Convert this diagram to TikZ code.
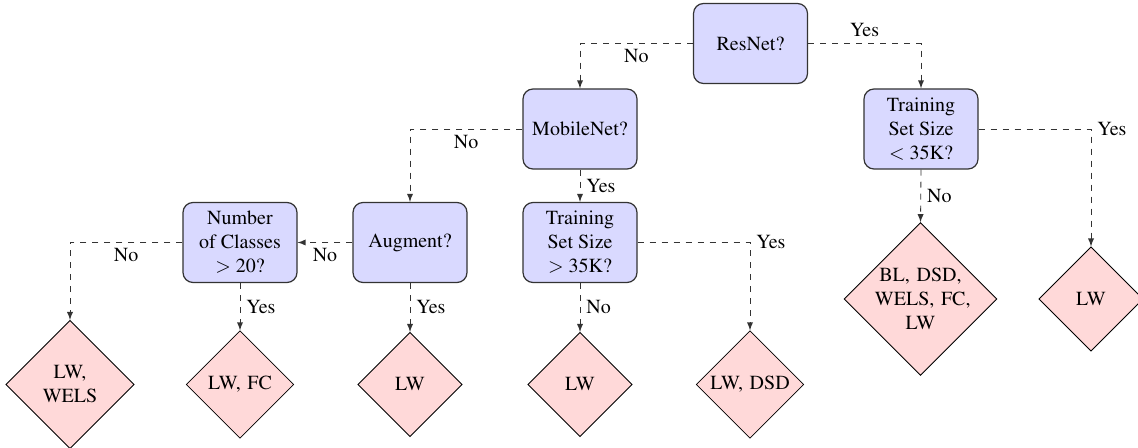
\documentclass[tikz,border=0pt]{standalone}
\usepackage[T1]{fontenc}
\usepackage{mathptmx}
\usetikzlibrary{shapes.geometric,arrows}
\begin{document}
\begin{tikzpicture}[x=0.5pt,y=-0.5pt, every node/.style={font=\rmfamily},
  qbox/.style={rectangle, rounded corners=5pt, draw=black!80, line width=0.6pt,
    fill=blue!15, minimum width=57pt, minimum height=40pt, align=center, inner sep=2pt},
  leaf/.style={diamond, draw=black, line width=0.4pt, fill=red!15, aspect=1,
    text width=1.6cm, align=center, inner sep=0pt},
  conn/.style={draw=black!80, dashed, -latex},
  lbl/.style={inner sep=3pt}]
\useasboundingbox (0,0) rectangle (1138,448);
% decision boxes
\node[qbox] (res) at (750.5,43.5) {ResNet?};
\node[qbox] (mob) at (580,129) {MobileNet?};
\node[qbox] (tsl) at (921,129) {Training\\Set Size\\$<$ 35K?};
\node[qbox] (aug) at (410,242.5) {Augment?};
\node[qbox] (ncl) at (240,242.5) {Number\\of Classes\\$>$ 20?};
\node[qbox] (tsg) at (580,242.5) {Training\\Set Size\\$>$ 35K?};
% leaves
\node[leaf] (l1) at (70,384.5) {LW,\\WELS};
\node[leaf] (l2) at (240,384.5) {LW,~FC};
\node[leaf] (l3) at (410,384.5) {LW};
\node[leaf] (l4) at (580,384.5) {LW};
\node[leaf] (l5) at (750,384.5) {LW,~DSD};
\node[leaf] (l6) at (920.5,299) {BL,~DSD,\\WELS,~FC,\\LW};
\node[leaf] (l7) at (1091,299) {LW};
% connectors
\draw[conn] (res.west) -| node[lbl,below,pos=0.25]{No} (mob.north);
\draw[conn] (res.east) -| node[lbl,above,pos=0.25]{Yes} (tsl.north);
\draw[conn] (mob.west) -| node[lbl,below,pos=0.25]{No} (aug.north);
\draw[conn] (mob.south) -- node[lbl,right]{Yes} (tsg.north);
\draw[conn] (tsl.east) -| node[lbl,right,pos=0.5]{Yes} (l7.north);
\draw[conn] (tsl.south) -- node[lbl,right]{No} (l6.north);
\draw[conn] (tsg.east) -| node[lbl,right,pos=0.5]{Yes} (l5.north);
\draw[conn] (tsg.south) -- node[lbl,right]{No} (l4.north);
\draw[conn] (aug.west) -- node[lbl,below]{No} (ncl.east);
\draw[conn] (aug.south) -- node[lbl,right]{Yes} (l3.north);
\draw[conn] (ncl.west) -| node[lbl,below,pos=0.25]{No} (l1.north);
\draw[conn] (ncl.south) -- node[lbl,right]{Yes} (l2.north);
\end{tikzpicture}
\end{document}
